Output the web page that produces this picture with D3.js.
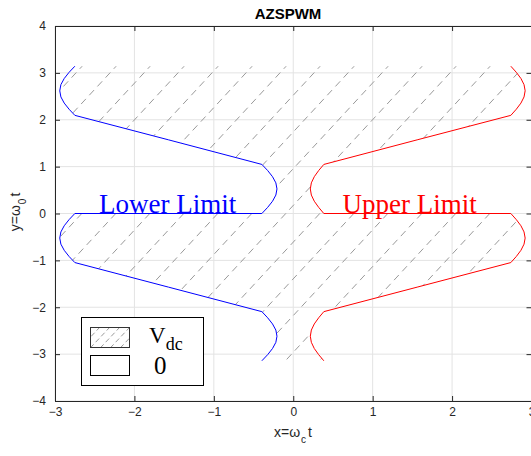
<!DOCTYPE html>
<html>
<head>
<meta charset="utf-8">
<script src="https://cdn.jsdelivr.net/npm/d3@7/dist/d3.min.js"></script>
<style>
  html, body { margin: 0; padding: 0; background: #fff; }
  svg { display: block; }
</style>
</head>
<body>
<svg id="chart" width="531" height="456"></svg>
<script>
// ---------------- data ----------------
const title = "AZSPWM";
const xTicks = [-3, -2, -1, 0, 1, 2, 3];
const yTicks = [-4, -3, -2, -1, 0, 1, 2, 3, 4];

// Lower limit (blue), traced from y = pi down to y = -pi
const lowerX = [
  -2.75, -2.823, -2.884, -2.926, -2.94, -2.926, -2.884, -2.823, -2.75,
  -1.57, -0.395,
  -0.322, -0.261, -0.219, -0.205, -0.219, -0.261, -0.322, -0.395,
  -2.75, -2.823, -2.884, -2.926, -2.94, -2.926, -2.884, -2.823, -2.75,
  -1.57, -0.395,
  -0.322, -0.261, -0.219, -0.205, -0.219, -0.261, -0.322, -0.395
];
const lowerY = [
  3.142, 3.011, 2.880, 2.749, 2.618, 2.487, 2.356, 2.225, 2.094,
  1.571, 1.047,
  0.916, 0.785, 0.654, 0.524, 0.393, 0.262, 0.131, 0,
  0, -0.131, -0.262, -0.393, -0.524, -0.654, -0.785, -0.916, -1.047,
  -1.571, -2.094,
  -2.225, -2.356, -2.487, -2.618, -2.749, -2.880, -3.011, -3.142
];
// Upper limit (red), traced from y = pi down to y = -pi
const upperX = [
  2.74, 2.809, 2.867, 2.906, 2.92, 2.906, 2.867, 2.809, 2.74,
  1.56, 0.385,
  0.320, 0.265, 0.228, 0.215, 0.228, 0.265, 0.320, 0.385,
  2.74, 2.809, 2.867, 2.906, 2.92, 2.906, 2.867, 2.809, 2.74,
  1.56, 0.385,
  0.320, 0.265, 0.228, 0.215, 0.228, 0.265, 0.320, 0.385
];
const upperY = lowerY.slice();

const legendLabels = ["V", "0"];

// ---------------- layout ----------------
const svg = d3.select("#chart");
const L = 55, R = 531.5, T = 26, B = 401;
const x = d3.scaleLinear().domain([-3, 3]).range([L, R]);
const y = d3.scaleLinear().domain([-4, 4]).range([B, T]);
const axisColor = "#262626";
const sans = "'Liberation Sans', Arial, Helvetica, sans-serif";
const serif = "'Liberation Serif', 'Times New Roman', serif";

const lowerPts = lowerX.map((v, i) => [v, lowerY[i]]);
const upperPts = upperX.map((v, i) => [v, upperY[i]]);
// index where the jump at y = 0 happens
const jump = lowerY.findIndex((v, i) => v === 0 && lowerY[i + 1] === 0);

const upperRegion = lowerPts.slice(0, jump + 1).concat(upperPts.slice(0, jump + 1).reverse());
const lowerRegion = lowerPts.slice(jump + 1).concat(upperPts.slice(jump + 1).reverse());

const defs = svg.append("defs");
const polyLine = d3.line().x(d => x(d[0])).y(d => y(d[1]));

const clip = defs.append("clipPath").attr("id", "hatchClip");
clip.append("path").attr("d", polyLine(upperRegion) + "Z");
clip.append("path").attr("d", polyLine(lowerRegion) + "Z");

defs.append("clipPath").attr("id", "plotClip")
  .append("rect").attr("x", L).attr("y", T).attr("width", R - L).attr("height", B - T);

// grid
const grid = svg.append("g");
grid.selectAll(".gx").data(xTicks).join("line")
  .attr("x1", d => x(d)).attr("x2", d => x(d)).attr("y1", T).attr("y2", B)
  .attr("stroke", "#e3e3e3").attr("stroke-width", 1);
grid.selectAll(".gy").data(yTicks).join("line")
  .attr("y1", d => y(d)).attr("y2", d => y(d)).attr("x1", L).attr("x2", R)
  .attr("stroke", "#e3e3e3").attr("stroke-width", 1);

// hatch
function hatch(g, x0, x1, y0, y1, step, slope, dash) {
  const h = y1 - y0;
  const span = h / slope;
  for (let s = x0 - span; s <= x1 + step; s += step) {
    g.append("line")
      .attr("x1", s).attr("y1", y1)
      .attr("x2", s + span).attr("y2", y0)
      .attr("stroke", "#999").attr("stroke-width", 1)
      .attr("stroke-dasharray", dash);
  }
}
const hg = svg.append("g").attr("clip-path", "url(#hatchClip)");
hatch(hg, L, R, y(3.3), y(-3.3), 34, 1.08, "7,5");

// curves
const plotG = svg.append("g").attr("clip-path", "url(#plotClip)");
plotG.append("path").attr("d", polyLine(lowerPts))
  .attr("fill", "none").attr("stroke", "#0000ff").attr("stroke-width", 1);
plotG.append("path").attr("d", polyLine(upperPts))
  .attr("fill", "none").attr("stroke", "#ff0000").attr("stroke-width", 1);

// axes
function styleAxis(g) {
  g.selectAll("path,line").attr("stroke", axisColor);
  g.selectAll("text").attr("fill", axisColor).attr("font-family", sans).attr("font-size", 12);
}
svg.append("g").attr("transform", `translate(0,${B})`)
  .call(d3.axisBottom(x).tickValues(xTicks).tickFormat(d3.format("d"))
    .tickSizeInner(-5).tickSizeOuter(0).tickPadding(6))
  .call(styleAxis);
svg.append("g").attr("transform", `translate(0,${T})`)
  .call(d3.axisTop(x).tickValues(xTicks).tickFormat("")
    .tickSizeInner(-5).tickSizeOuter(0))
  .call(styleAxis);
svg.append("g").attr("transform", `translate(${L},0)`)
  .call(d3.axisLeft(y).tickValues(yTicks).tickFormat(d3.format("d"))
    .tickSizeInner(-5).tickSizeOuter(0).tickPadding(9))
  .call(styleAxis);
svg.append("g").attr("transform", `translate(${R},0)`)
  .call(d3.axisRight(y).tickValues(yTicks).tickFormat("")
    .tickSizeInner(-5).tickSizeOuter(0))
  .call(styleAxis);

// title
svg.append("text").attr("x", 288).attr("y", 19).attr("text-anchor", "middle")
  .attr("font-family", sans).attr("font-weight", "bold").attr("font-size", 15)
  .attr("fill", "#000").text(title);

// axis labels
const xl = svg.append("text").attr("x", 293).attr("y", 437).attr("text-anchor", "middle")
  .attr("font-family", sans).attr("font-size", 14).attr("fill", axisColor);
xl.append("tspan").text("x=ω");
xl.append("tspan").attr("dy", 6).attr("dx", 1).attr("font-size", 10).text("c");
xl.append("tspan").attr("dy", -6).attr("dx", 2).text("t");

const yl = svg.append("text").attr("transform", "translate(20,212) rotate(-90)")
  .attr("text-anchor", "middle")
  .attr("font-family", sans).attr("font-size", 14).attr("fill", axisColor);
yl.append("tspan").text("y=ω");
yl.append("tspan").attr("dy", 6).attr("dx", 1).attr("font-size", 10).text("0");
yl.append("tspan").attr("dy", -6).attr("dx", 2).text("t");

// annotations
svg.append("text").attr("x", 99).attr("y", 213)
  .attr("font-family", serif).attr("font-size", 27).attr("fill", "#0000ff").text("Lower Limit");
svg.append("text").attr("x", 342.5).attr("y", 213)
  .attr("font-family", serif).attr("font-size", 27).attr("fill", "#ff0000").text("Upper Limit");

// legend
const lg = svg.append("g");
lg.append("rect").attr("x", 81.5).attr("y", 317.5).attr("width", 122).attr("height", 68)
  .attr("fill", "#fff").attr("stroke", "#000").attr("stroke-width", 1);
defs.append("clipPath").attr("id", "legClip")
  .append("rect").attr("x", 90.5).attr("y", 327.5).attr("width", 39).attr("height", 20);
const lh = lg.append("g").attr("clip-path", "url(#legClip)");
hatch(lh, 90, 130, 327, 348, 10, 1.06, "5,3");
lg.append("rect").attr("x", 90.5).attr("y", 327.5).attr("width", 39).attr("height", 20)
  .attr("fill", "none").attr("stroke", "#333").attr("stroke-width", 1);
lg.append("rect").attr("x", 90.5).attr("y", 355.5).attr("width", 39).attr("height", 20)
  .attr("fill", "none").attr("stroke", "#000").attr("stroke-width", 1);
const vt = lg.append("text").attr("x", 149).attr("y", 343)
  .attr("font-family", serif).attr("font-size", 23).attr("fill", "#000");
vt.append("tspan").text(legendLabels[0]);
vt.append("tspan").attr("dy", 7).attr("font-size", 18).text("dc");
lg.append("text").attr("x", 154).attr("y", 374)
  .attr("font-family", serif).attr("font-size", 25).attr("fill", "#000").text(legendLabels[1]);
</script>
</body>
</html>
